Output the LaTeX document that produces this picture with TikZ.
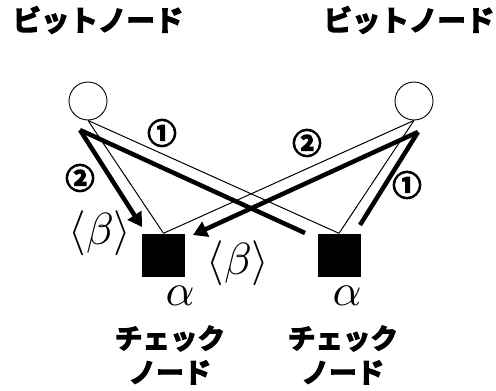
\documentclass[tikz,border=0pt]{standalone}
\usepackage{graphicx}
\usepackage{fontspec}
\newfontfamily\jp[UprightFont={* Bold}]{Noto Sans CJK JP}
\usetikzlibrary{arrows.meta}
\newcommand{\bigmath}[1]{\scalebox{4.5}{$#1$}}
% heavier glyphs: fill and stroke the outlines
\newcommand{\heavy}[1]{\special{pdf:literal direct 2 Tr 1.3 w}#1\special{pdf:literal direct 0 Tr 0.4 w}}
\begin{document}
\begin{tikzpicture}[x=1pt,y=-1pt,
  bitnode/.style={circle,draw,line width=0.9pt,minimum size=38pt,inner sep=0pt},
  checknode/.style={rectangle,fill=black,minimum size=43pt,inner sep=0pt},
  edge/.style={line width=1pt},
  msg/.style={line width=4.5pt},
  msgarrow/.style={line width=4.5pt,-{Triangle[length=14pt,width=16pt]}},
  toplabel/.style={font=\jp\fontsize{28.5}{34}\selectfont,inner sep=0pt},
  jplabel/.style={font=\jp\fontsize{27.5}{34}\selectfont,inner sep=0pt,align=center},
  numlabel/.style={font=\jp\fontsize{29}{29}\selectfont,inner sep=0pt},
  mathlabel/.style={inner sep=0pt}]
\useasboundingbox (0,0) rectangle (496,391);
% variable (bit) nodes and check nodes
\node[bitnode] (b1) at (88,101) {};
\node[bitnode] (b2) at (414,101) {};
\node[checknode] (c1) at (163.5,255) {};
\node[checknode] (c2) at (339,255) {};
% graph edges
\draw[edge] (b1.south) -- (c1.north);
\draw[edge] (b1.south) -- (c2.north);
\draw[edge] (b2.south) -- (c1.north);
\draw[edge] (b2.south) -- (c2.north);
% message start / end points
\coordinate (m1) at (80,130);
\coordinate (m2) at (418,132);
\coordinate (e1) at (142,227);
\coordinate (e2) at (305,233);
\coordinate (e3) at (193,235);
\coordinate (e4) at (360,225);
% messages
\draw[msgarrow] (m1) -- (e1);
\draw[msg] (m1) -- (e2);
\draw[msgarrow] (m2) -- (e3);
\draw[msg] (m2) -- (e4);
% step numbers
\node[numlabel] (n1) at (162,133) {\heavy{①}};
\node[numlabel] (n2) at (80,178) {\heavy{②}};
\node[numlabel] (n3) at (307,143) {\heavy{②}};
\node[numlabel] (n4) at (407,185) {\heavy{①}};
% values
\node[mathlabel] (beta1) at (100,233) {\bigmath{\langle\beta\rangle}};
\node[mathlabel] (beta2) at (238,263) {\bigmath{\langle\beta\rangle}};
\node[mathlabel] (a1) at (180,296) {\bigmath{\alpha}};
\node[mathlabel] (a2) at (347,296) {\bigmath{\alpha}};
% captions
\node[toplabel] (t1) at (98,20) {\heavy{ビットノード}};
\node[toplabel] (t2) at (409,20) {\heavy{ビットノード}};
\node[jplabel] (t3) at (170,355) {\heavy{チェック}\\\heavy{ノード}};
\node[jplabel] (t4) at (343,355) {\heavy{チェック}\\\heavy{ノード}};
\end{tikzpicture}
\end{document}
